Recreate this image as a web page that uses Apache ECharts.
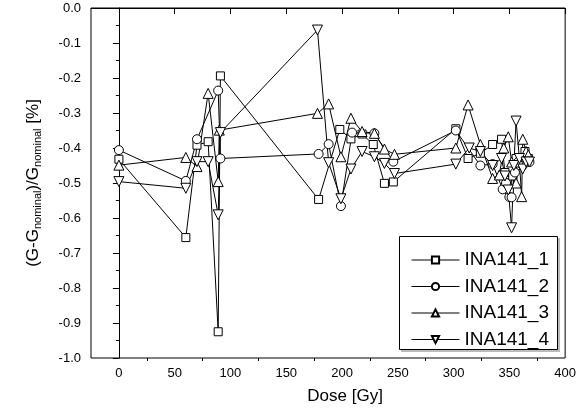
<!DOCTYPE html>
<html>
<head>
<meta charset="utf-8">
<script src="https://cdn.jsdelivr.net/npm/echarts@6/dist/echarts.min.js"></script>
<style>html,body{margin:0;padding:0;background:#fff;}#c{width:579px;height:415px;}</style>
</head>
<body>
<div id="c"></div>
<script>
// ---- data ----
const seriesNames = ['INA141_1', 'INA141_2', 'INA141_3', 'INA141_4'];
const dose1 = [0, 60, 70, 80, 89, 91, 179, 198, 208, 218, 228, 238, 246, 302, 313, 324, 335, 343, 346, 348, 350, 353, 356, 360, 364, 367];
const val1  = [-0.432, -0.656, -0.392, -0.382, -0.925, -0.194, -0.547, -0.347, -0.374, -0.36, -0.39, -0.501, -0.497, -0.345, -0.43, -0.415, -0.39, -0.375, -0.47, -0.50, -0.52, -0.48, -0.43, -0.45, -0.41, -0.43];
const dose2 = [0, 60, 70, 89, 91, 179, 188, 199, 209, 229, 246, 302, 324, 335, 344, 347, 350, 352, 355, 358, 362, 365, 368];
const val2  = [-0.406, -0.494, -0.375, -0.236, -0.43, -0.417, -0.389, -0.566, -0.356, -0.358, -0.439, -0.35, -0.45, -0.446, -0.518, -0.50, -0.54, -0.541, -0.47, -0.44, -0.45, -0.43, -0.44];
const dose3 = [0, 60, 70, 80, 89, 90, 178, 188, 199, 208, 218, 229, 238, 247, 302, 313, 324, 335, 341, 345, 349, 352, 356, 359, 361, 362, 365, 367];
const val3  = [-0.449, -0.427, -0.453, -0.244, -0.496, -0.349, -0.301, -0.274, -0.425, -0.315, -0.353, -0.358, -0.403, -0.418, -0.40, -0.277, -0.39, -0.487, -0.477, -0.40, -0.368, -0.44, -0.50, -0.44, -0.539, -0.375, -0.41, -0.42];
const dose4 = [0, 60, 70, 80, 89, 91, 178, 188, 199, 208, 218, 229, 238, 247, 302, 314, 324, 335, 343, 346, 349, 352, 354, 356, 359, 362, 365, 368];
const val4  = [-0.496, -0.515, -0.439, -0.439, -0.591, -0.356, -0.063, -0.442, -0.545, -0.46, -0.41, -0.425, -0.444, -0.473, -0.446, -0.40, -0.41, -0.45, -0.43, -0.48, -0.52, -0.628, -0.45, -0.323, -0.43, -0.46, -0.44, -0.44];
const xMajorTicks = [0, 50, 100, 150, 200, 250, 300, 350, 400];
const xMinorTicks = [25, 75, 125, 175, 225, 275, 325, 375];

const doses = [dose1, dose2, dose3, dose4];
const vals = [val1, val2, val3, val4];
const symbols = ['rect', 'circle', 'triangle', 'path://M0,0 L10,0 L5,10 Z'];
const symSizes = [8, 9, 10, 10];

const FONT = 'Liberation Sans, Arial, sans-serif';
const chart = echarts.init(document.getElementById('c'), null, {renderer: 'canvas'});

const series = seriesNames.map((n, i) => ({
  name: n,
  type: 'line',
  data: doses[i].map((d, k) => [d, vals[i][k]]),
  symbol: symbols[i],
  symbolSize: symSizes[i],
  showAllSymbol: true,
  lineStyle: {color: '#000', width: 1},
  itemStyle: {color: '#fff', borderColor: '#000', borderWidth: 1},
  emphasis: {disabled: true},
  animation: false,
  z: 2
}));

chart.setOption({
  animation: false,
  backgroundColor: '#fff',
  grid: {left: 91, top: 8, right: 13, bottom: 57, show: true, borderColor: '#000', borderWidth: 1, backgroundColor: 'transparent'},
  xAxis: [{
    type: 'value', min: -25, max: 400, interval: 25,
    axisLine: {lineStyle: {color: '#000', width: 1}},
    axisTick: {show: true, length: 6, customValues: xMajorTicks, lineStyle: {color: '#000'}},
    axisLabel: {customValues: xMajorTicks, color: '#000', fontSize: 13, fontFamily: FONT, margin: 9},
    splitLine: {show: false},
    name: 'Dose [Gy]', nameLocation: 'middle', nameGap: 30,
    nameTextStyle: {color: '#000', fontSize: 17, fontFamily: FONT, padding: [0, 0, 0, 34]}
  }, {
    type: 'value', min: -25, max: 400, interval: 25, position: 'bottom',
    axisLine: {show: false},
    axisTick: {show: true, length: 3, customValues: xMinorTicks, lineStyle: {color: '#000'}},
    axisLabel: {show: false},
    splitLine: {show: false}
  }],
  yAxis: {
    type: 'value', min: -1, max: 0, interval: 0.1,
    axisLine: {show: true, lineStyle: {color: '#000', width: 1}},
    axisTick: {show: true, length: 6, lineStyle: {color: '#000'}},
    minorTick: {show: true, splitNumber: 2, length: 3, lineStyle: {color: '#000'}},
    axisLabel: {color: '#000', fontSize: 13, fontFamily: FONT, margin: 10, formatter: v => v.toFixed(1)},
    splitLine: {show: false},
    name: '(G-G{s|nominal})/G{s|nominal} [%]',
    nameLocation: 'middle', nameGap: 48,
    nameTextStyle: {color: '#000', fontSize: 17, fontFamily: FONT,
      rich: {s: {fontSize: 11, fontFamily: FONT, color: '#000', verticalAlign: 'bottom', padding: [9, 0, 0, 0]}}}
  },
  graphic: [{
    type: 'rect', z: 3,
    shape: {x: 401, y: 238, width: 159, height: 114},
    style: {fill: '#bbb', stroke: null}
  }, {
    type: 'rect', z: 3,
    shape: {x: 399.5, y: 236.5, width: 158, height: 113},
    style: {fill: '#fff', stroke: '#000', lineWidth: 1}
  }],
  legend: {
    orient: 'vertical', left: 411, top: 250.5, z: 10,
    padding: 0, itemGap: 7.5, itemWidth: 48, itemHeight: 9,
    lineStyle: {width: 1},
    textStyle: {color: '#000', fontSize: 19, lineHeight: 18, fontFamily: FONT},
    selectedMode: false,
    data: seriesNames
  },
  series: series
});
</script>
</body>
</html>
